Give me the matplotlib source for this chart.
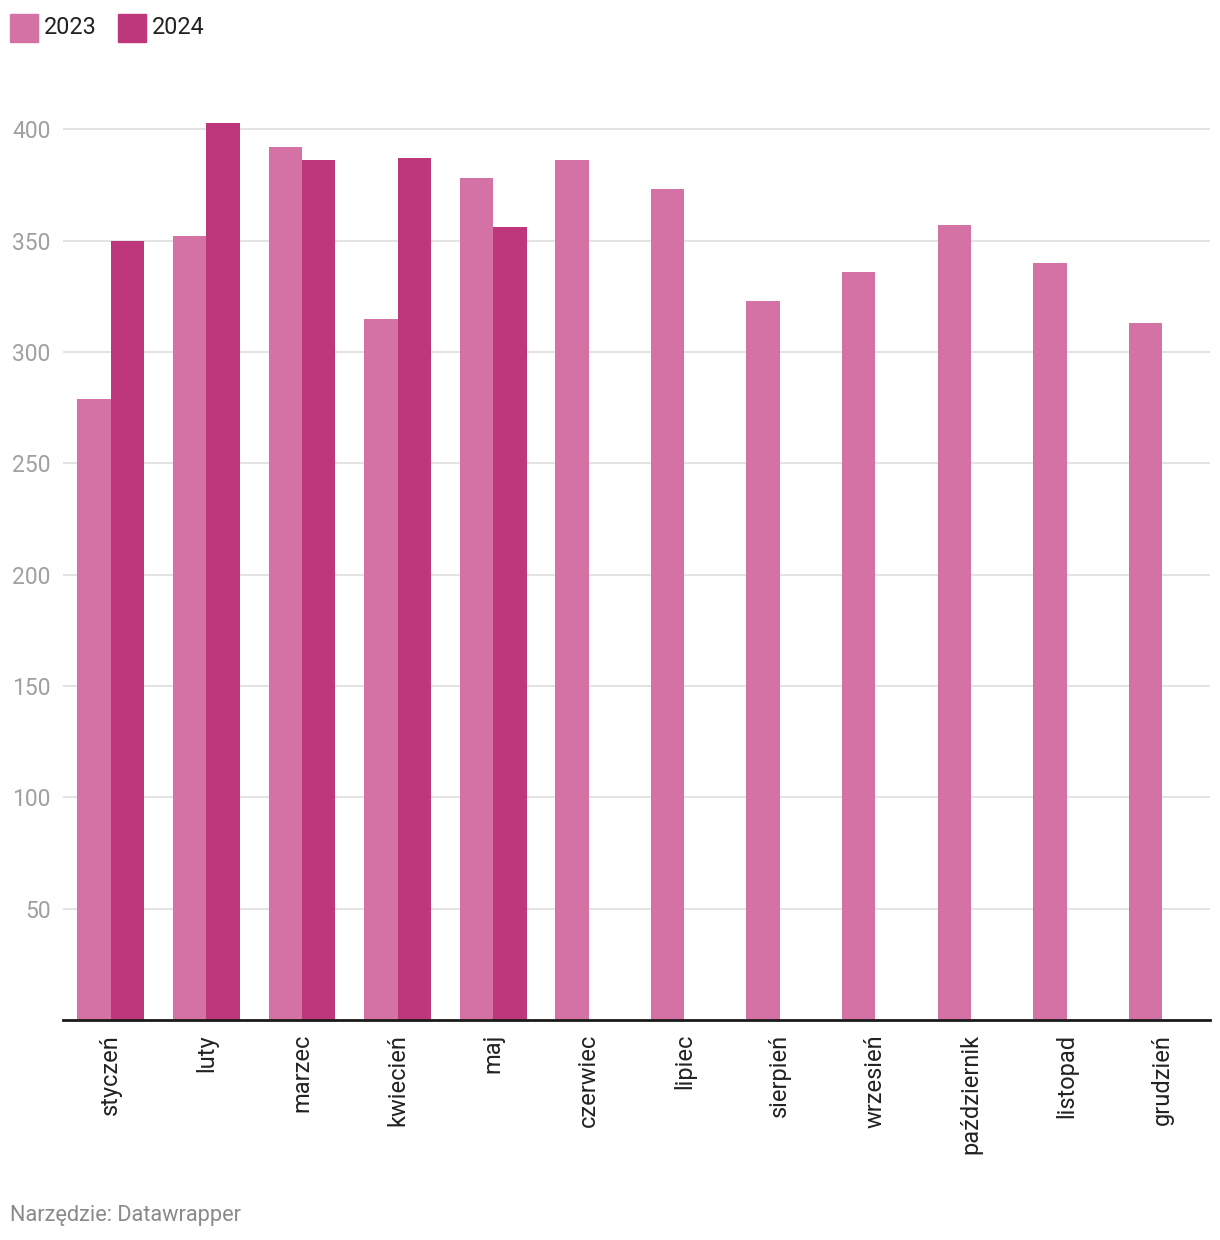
# -*- coding: utf-8 -*-
import matplotlib
matplotlib.use("Agg")
import matplotlib.pyplot as plt
import numpy as np
from matplotlib.patches import Rectangle

# Datos
miesiace = ["styczeń", "luty", "marzec", "kwiecień", "maj", "czerwiec",
            "lipiec", "sierpień", "wrzesień", "październik", "listopad", "grudzień"]
wartosci_2023 = [279, 352, 392, 315, 378, 386, 373, 323, 336, 357, 340, 313]
wartosci_2024 = [350, 403, 386, 387, 356]
serie = ["2023", "2024"]
kolory = ["#d472a5", "#be367c"]
yticks = [50, 100, 150, 200, 250, 300, 350, 400]

plt.rcParams["font.family"] = ["Roboto", "DejaVu Sans"]

fig = plt.figure(figsize=(12.2, 12.4), dpi=100)
ax = fig.add_axes([63 / 1220, 1 - 1020 / 1240, (1210 - 63) / 1220, (1020 - 107) / 1240])

x = np.arange(len(miesiace))
w = 0.35
ax.bar(x - w / 2, wartosci_2023, width=w, align="center", color=kolory[0], zorder=3)
x24 = np.arange(len(wartosci_2024))
ax.bar(x24 + w / 2, wartosci_2024, width=w, align="center", color=kolory[1], zorder=3)

ax.set_xlim(-0.5, 11.5)
ax.set_ylim(0, 410)

ax.set_yticks(yticks)
ax.set_yticklabels([str(v) for v in yticks])
ax.tick_params(axis="y", length=0, pad=9, labelsize=16.5, labelcolor="#a0a0a0")
ax.grid(axis="y", color="#e3e3e3", linewidth=1.4, zorder=0)

ax.set_xticks(x)
ax.set_xticklabels(miesiace, rotation=90, va="top", ha="center")
ax.tick_params(axis="x", length=0, pad=10, labelsize=17, labelcolor="#222222")

for s in ["top", "right", "left"]:
    ax.spines[s].set_visible(False)
ax.spines["bottom"].set_color("#1a1a1a")
ax.spines["bottom"].set_linewidth(2)
ax.spines["bottom"].set_zorder(4)

# Leyenda manual
pos_leg = [(10, 44), (118, 152)]
for (xs, xt), nombre, c in zip(pos_leg, serie, kolory):
    fig.add_artist(Rectangle((xs / 1220, 1 - 42 / 1240), 28 / 1220, 28 / 1240,
                             transform=fig.transFigure, color=c))
    fig.text(xt / 1220, 1 - 28 / 1240, nombre, fontsize=16.8, color="#222222",
             va="center", ha="left")

fig.text(10 / 1220, 1 - 1215 / 1240, "Narzędzie: Datawrapper", fontsize=15.7,
         color="#8a8a8a", va="center", ha="left")

fig.savefig("out.png", dpi=100, facecolor="white")
